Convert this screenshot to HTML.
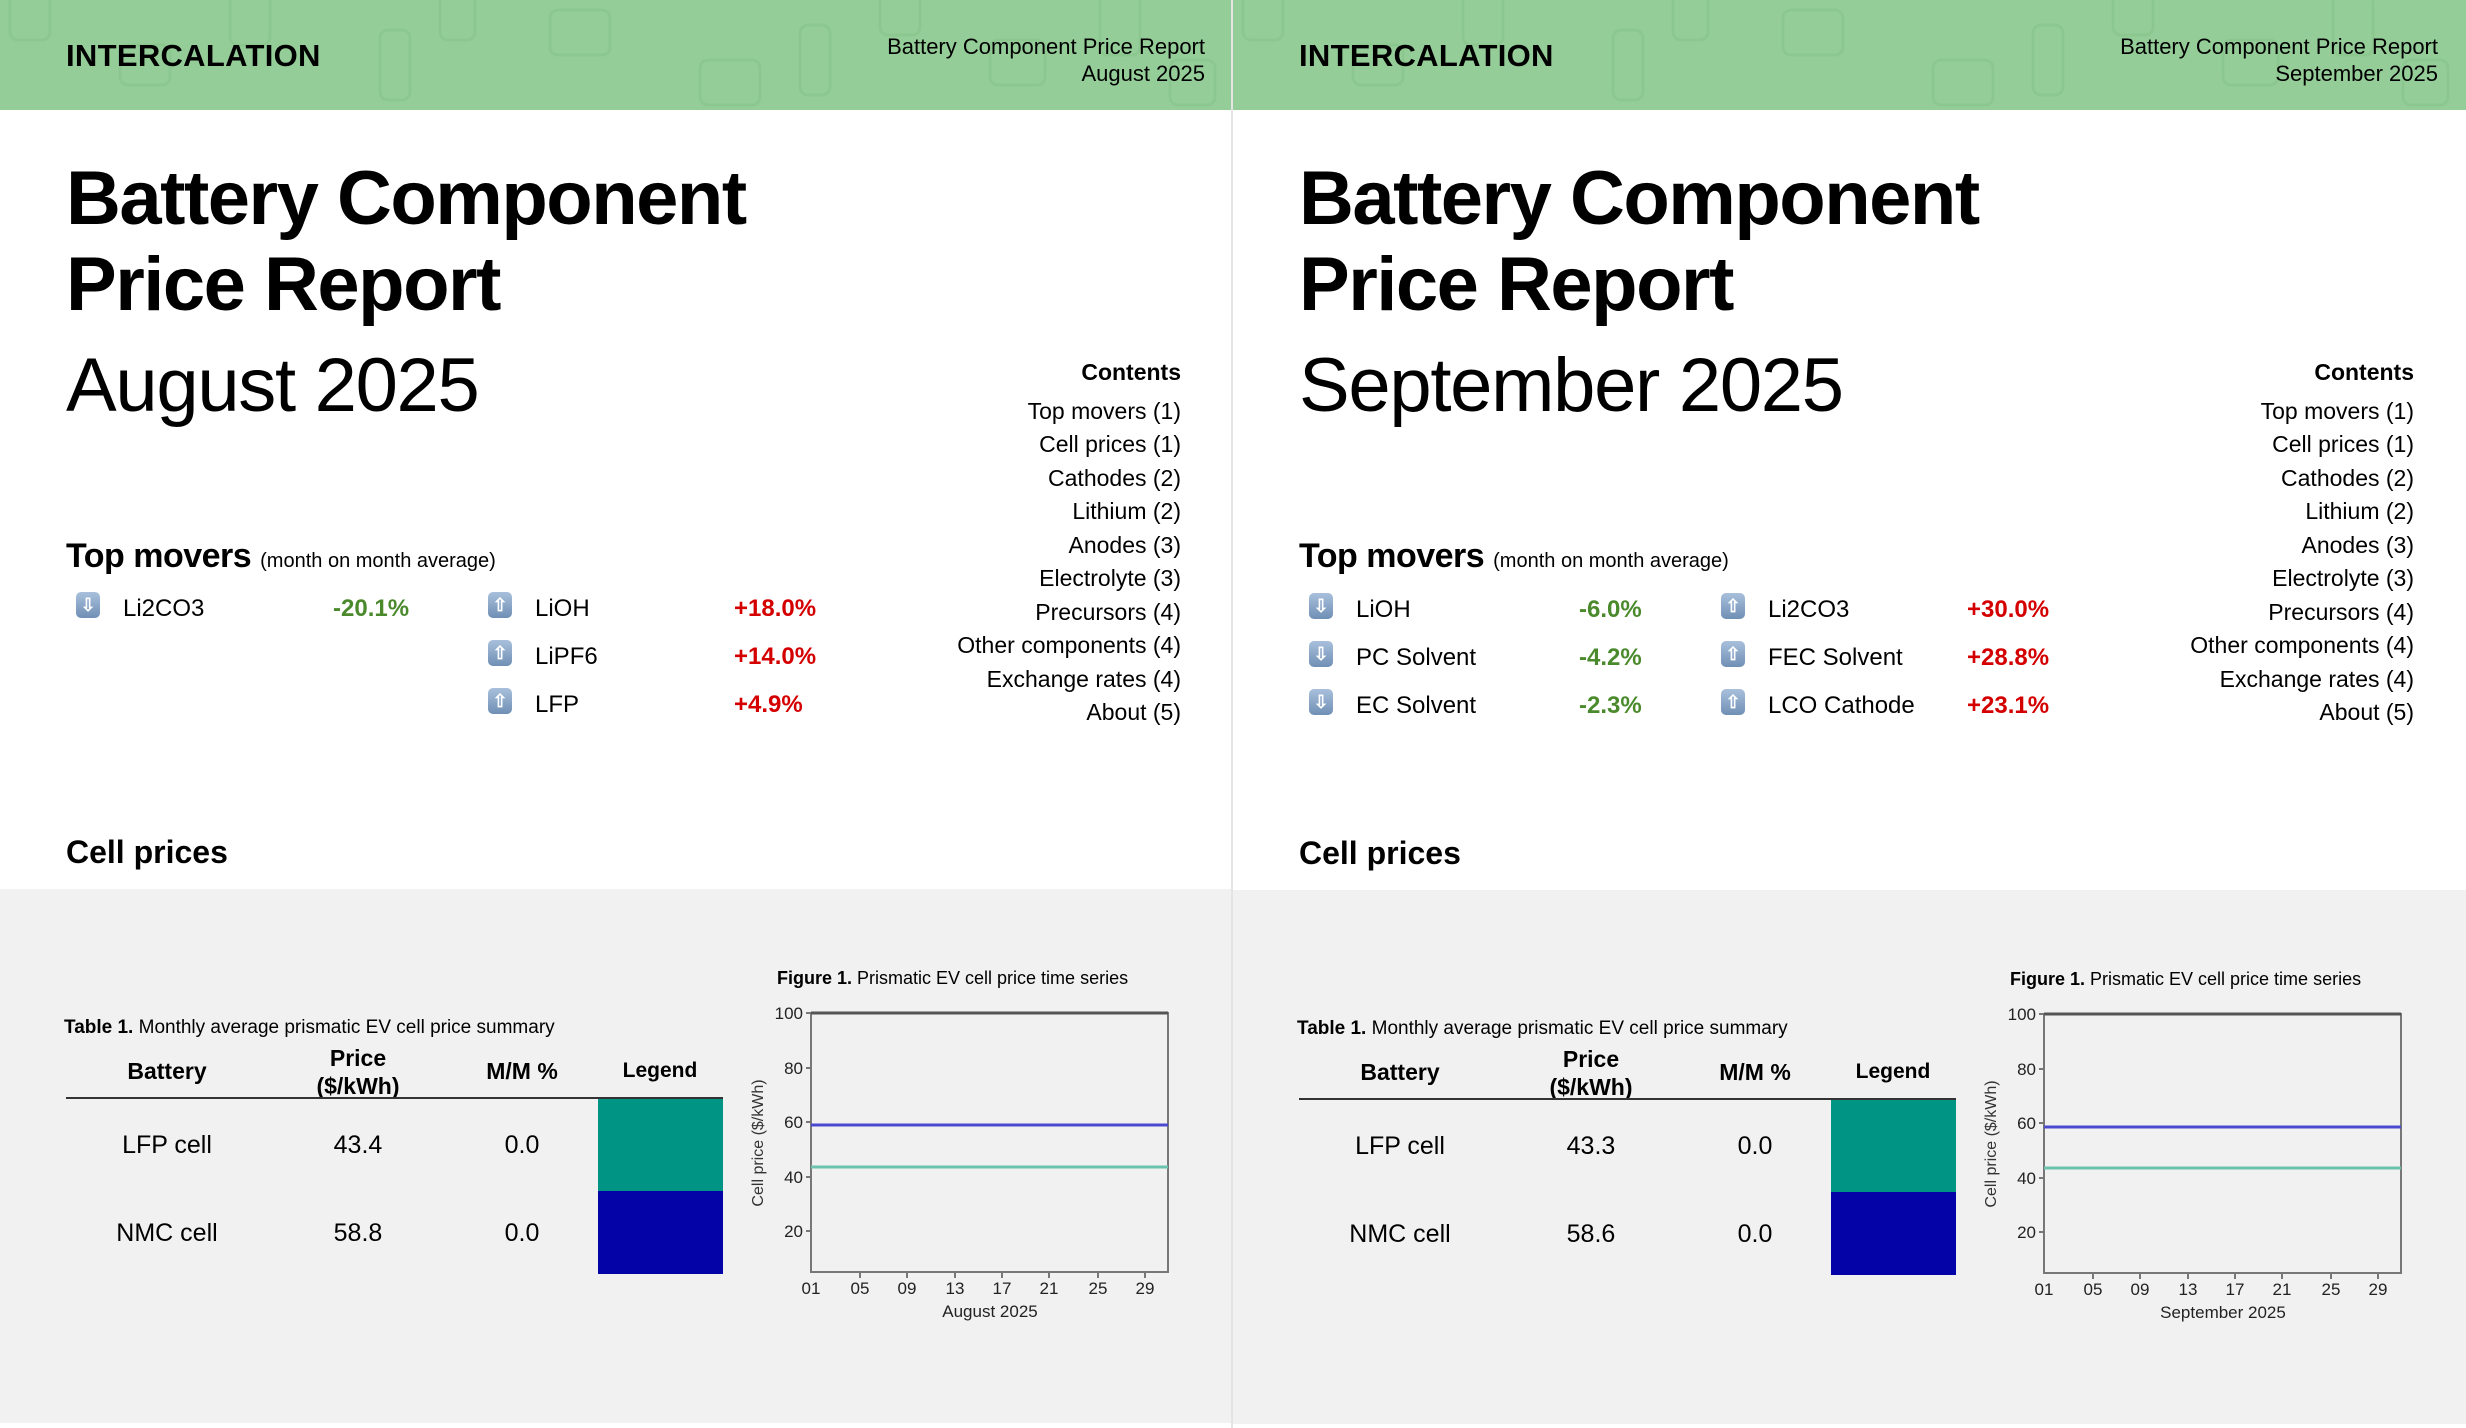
<!DOCTYPE html>
<html><head><meta charset="utf-8"><style>
*{margin:0;padding:0;box-sizing:border-box}
body{width:2466px;height:1428px;background:#fff;position:relative;overflow:hidden;font-family:"Liberation Sans",Arial,sans-serif;color:#000}
.p{position:absolute;top:0;width:1233px;height:1428px;overflow:hidden}
.hd{position:absolute;left:0;top:0;width:1233px;height:110px;background:#95cd99}
.a{position:absolute;line-height:1;white-space:nowrap}
.gray{position:absolute;left:0;top:889px;width:1233px;height:534px;background:#f1f1f1}
.logo{font-size:31px;font-weight:bold;letter-spacing:0.3px}
.hr{font-size:22px;right:28px;text-align:right}
.t{font-size:76px;font-weight:bold;letter-spacing:-1.5px}
.ct{font-size:23px;right:52px;text-align:right}
.mv{font-size:24px}
.g{color:#4b8a2c;font-weight:bold}
.r{color:#d40000;font-weight:bold}
.ic{position:absolute;width:24px;height:26px;border-radius:5px;background:linear-gradient(#a9c0dc,#6f8fb5);color:#fff;font-size:18px;font-weight:bold;text-align:center;line-height:26px}
.th{font-size:23px;font-weight:bold;text-align:center;width:200px}
.td{font-size:25px;text-align:center;width:200px}
</style></head><body>

<!-- LEFT PANEL -->
<div class="p" style="left:0">
<div class="hd"><svg width="1233" height="110" style="position:absolute;left:0;top:0" fill="none" stroke="#8cc790" stroke-width="3">
<rect x="10" y="-20" width="40" height="60" rx="8"/><rect x="120" y="45" width="50" height="40" rx="8"/><rect x="230" y="-10" width="40" height="55" rx="8"/><rect x="380" y="30" width="30" height="70" rx="8"/><rect x="440" y="-15" width="35" height="55" rx="8"/><rect x="550" y="10" width="60" height="45" rx="8"/><rect x="700" y="60" width="60" height="45" rx="8"/><rect x="800" y="25" width="30" height="70" rx="8"/><rect x="880" y="-20" width="40" height="55" rx="8"/><rect x="990" y="40" width="55" height="45" rx="8"/><rect x="1100" y="-5" width="40" height="60" rx="8"/><rect x="1170" y="60" width="45" height="45" rx="8"/>
</svg></div>
<div class="a logo" style="left:66px;top:40px">INTERCALATION</div>
<div class="a hr" style="top:36px">Battery Component Price Report</div>
<div class="a hr" style="top:63px">August 2025</div>
<div class="a t" style="left:66px;top:161px">Battery Component</div>
<div class="a t" style="left:66px;top:247px">Price Report</div>
<div class="a t" style="left:66px;top:348px;font-weight:normal;letter-spacing:-1.3px">August 2025</div>
<div class="a ct" style="top:361px;font-weight:bold">Contents</div>
<div class="a ct" style="top:400px">Top movers (1)</div>
<div class="a ct" style="top:433px">Cell prices (1)</div>
<div class="a ct" style="top:467px">Cathodes (2)</div>
<div class="a ct" style="top:500px">Lithium (2)</div>
<div class="a ct" style="top:534px">Anodes (3)</div>
<div class="a ct" style="top:567px">Electrolyte (3)</div>
<div class="a ct" style="top:601px">Precursors (4)</div>
<div class="a ct" style="top:634px">Other components (4)</div>
<div class="a ct" style="top:668px">Exchange rates (4)</div>
<div class="a ct" style="top:701px">About (5)</div>
<div class="a" style="left:66px;top:539px;font-size:34px;font-weight:bold;letter-spacing:-0.5px">Top movers <span style="font-size:20px;font-weight:normal;letter-spacing:0">(month on month average)</span></div>
<div class="ic" style="left:76px;top:592px">⇩</div>
<div class="a mv" style="left:123px;top:597px">Li2CO3</div>
<div class="a mv g" style="left:333px;top:597px">-20.1%</div>
<div class="ic" style="left:488px;top:592px">⇧</div>
<div class="a mv" style="left:535px;top:597px">LiOH</div>
<div class="a mv r" style="left:734px;top:597px">+18.0%</div>
<div class="ic" style="left:488px;top:640px">⇧</div>
<div class="a mv" style="left:535px;top:645px">LiPF6</div>
<div class="a mv r" style="left:734px;top:645px">+14.0%</div>
<div class="ic" style="left:488px;top:688px">⇧</div>
<div class="a mv" style="left:535px;top:693px">LFP</div>
<div class="a mv r" style="left:734px;top:693px">+4.9%</div>
<div class="a" style="left:66px;top:836px;font-size:32px;font-weight:bold">Cell prices</div>
<div class="gray"></div>
<div class="a" style="left:64px;top:1018px;font-size:19px"><b>Table 1.</b> Monthly average prismatic EV cell price summary</div>
<div class="a th" style="left:67px;top:1060px">Battery</div>
<div class="a th" style="left:258px;top:1044px;line-height:28px">Price<br>($/kWh)</div>
<div class="a th" style="left:422px;top:1060px">M/M %</div>
<div class="a th" style="left:560px;top:1060px;font-size:21px">Legend</div>
<div style="position:absolute;left:66px;top:1097px;width:657px;height:2px;background:#333"></div>
<div style="position:absolute;left:598px;top:1099px;width:125px;height:92px;background:#009485"></div>
<div style="position:absolute;left:598px;top:1191px;width:125px;height:83px;background:#0303a8"></div>
<div class="a td" style="left:67px;top:1133px">LFP cell</div>
<div class="a td" style="left:258px;top:1133px">43.4</div>
<div class="a td" style="left:422px;top:1133px">0.0</div>
<div class="a td" style="left:67px;top:1221px">NMC cell</div>
<div class="a td" style="left:258px;top:1221px">58.8</div>
<div class="a td" style="left:422px;top:1221px">0.0</div>
<div class="a" style="left:777px;top:969px;font-size:18px"><b>Figure 1.</b> Prismatic EV cell price time series</div>
<svg width="1233" height="1428" style="position:absolute;left:0;top:0" font-family="Liberation Sans, Arial, sans-serif">
<rect x="811" y="1013" width="357" height="259" fill="none" stroke="#777" stroke-width="2"/>
<line x1="811" y1="1013" x2="1168" y2="1013" stroke="#555" stroke-width="3"/>
<g stroke="#777" stroke-width="2"><line x1="811" y1="1068" x2="806" y2="1068"/><line x1="811" y1="1122" x2="806" y2="1122"/><line x1="811" y1="1177" x2="806" y2="1177"/><line x1="811" y1="1231" x2="806" y2="1231"/><line x1="811" y1="1013" x2="806" y2="1013"/>
<line x1="860" y1="1272" x2="860" y2="1278"/><line x1="907" y1="1272" x2="907" y2="1278"/><line x1="955" y1="1272" x2="955" y2="1278"/><line x1="1002" y1="1272" x2="1002" y2="1278"/><line x1="1049" y1="1272" x2="1049" y2="1278"/><line x1="1098" y1="1272" x2="1098" y2="1278"/><line x1="1145" y1="1272" x2="1145" y2="1278"/></g>
<line x1="811" y1="1125" x2="1168" y2="1125" stroke="#4a4ad0" stroke-width="3"/>
<line x1="811" y1="1167" x2="1168" y2="1167" stroke="#6cc3ad" stroke-width="3"/>
<g font-size="17" text-anchor="end" fill="#222"><text x="803" y="1019">100</text><text x="803" y="1074">80</text><text x="803" y="1128">60</text><text x="803" y="1183">40</text><text x="803" y="1237">20</text></g>
<g font-size="17" text-anchor="middle" fill="#222"><text x="811" y="1294">01</text><text x="860" y="1294">05</text><text x="907" y="1294">09</text><text x="955" y="1294">13</text><text x="1002" y="1294">17</text><text x="1049" y="1294">21</text><text x="1098" y="1294">25</text><text x="1145" y="1294">29</text><text x="990" y="1317">August 2025</text></g>
<text transform="translate(763,1143) rotate(-90)" font-size="16" text-anchor="middle" fill="#333">Cell price ($/kWh)</text>
</svg>
</div>

<div style="position:absolute;left:1231px;top:0;width:2px;height:1428px;background:#e4e4e4"></div>

<!-- RIGHT PANEL -->
<div class="p" style="left:1233px">
<div class="hd"><svg width="1233" height="110" style="position:absolute;left:0;top:0" fill="none" stroke="#8cc790" stroke-width="3">
<rect x="10" y="-20" width="40" height="60" rx="8"/><rect x="120" y="45" width="50" height="40" rx="8"/><rect x="230" y="-10" width="40" height="55" rx="8"/><rect x="380" y="30" width="30" height="70" rx="8"/><rect x="440" y="-15" width="35" height="55" rx="8"/><rect x="550" y="10" width="60" height="45" rx="8"/><rect x="700" y="60" width="60" height="45" rx="8"/><rect x="800" y="25" width="30" height="70" rx="8"/><rect x="880" y="-20" width="40" height="55" rx="8"/><rect x="990" y="40" width="55" height="45" rx="8"/><rect x="1100" y="-5" width="40" height="60" rx="8"/><rect x="1170" y="60" width="45" height="45" rx="8"/>
</svg></div>
<div class="a logo" style="left:66px;top:40px">INTERCALATION</div>
<div class="a hr" style="top:36px">Battery Component Price Report</div>
<div class="a hr" style="top:63px">September 2025</div>
<div class="a t" style="left:66px;top:161px">Battery Component</div>
<div class="a t" style="left:66px;top:247px">Price Report</div>
<div class="a t" style="left:66px;top:348px;font-weight:normal;letter-spacing:-1.3px">September 2025</div>
<div class="a ct" style="top:361px;font-weight:bold">Contents</div>
<div class="a ct" style="top:400px">Top movers (1)</div>
<div class="a ct" style="top:433px">Cell prices (1)</div>
<div class="a ct" style="top:467px">Cathodes (2)</div>
<div class="a ct" style="top:500px">Lithium (2)</div>
<div class="a ct" style="top:534px">Anodes (3)</div>
<div class="a ct" style="top:567px">Electrolyte (3)</div>
<div class="a ct" style="top:601px">Precursors (4)</div>
<div class="a ct" style="top:634px">Other components (4)</div>
<div class="a ct" style="top:668px">Exchange rates (4)</div>
<div class="a ct" style="top:701px">About (5)</div>
<div class="a" style="left:66px;top:539px;font-size:34px;font-weight:bold;letter-spacing:-0.5px">Top movers <span style="font-size:20px;font-weight:normal;letter-spacing:0">(month on month average)</span></div>
<div class="ic" style="left:76px;top:593px">⇩</div>
<div class="a mv" style="left:123px;top:598px">LiOH</div>
<div class="a mv g" style="left:346px;top:598px">-6.0%</div>
<div class="ic" style="left:76px;top:641px">⇩</div>
<div class="a mv" style="left:123px;top:646px">PC Solvent</div>
<div class="a mv g" style="left:346px;top:646px">-4.2%</div>
<div class="ic" style="left:76px;top:689px">⇩</div>
<div class="a mv" style="left:123px;top:694px">EC Solvent</div>
<div class="a mv g" style="left:346px;top:694px">-2.3%</div>
<div class="ic" style="left:488px;top:593px">⇧</div>
<div class="a mv" style="left:535px;top:598px">Li2CO3</div>
<div class="a mv r" style="left:734px;top:598px">+30.0%</div>
<div class="ic" style="left:488px;top:641px">⇧</div>
<div class="a mv" style="left:535px;top:646px">FEC Solvent</div>
<div class="a mv r" style="left:734px;top:646px">+28.8%</div>
<div class="ic" style="left:488px;top:689px">⇧</div>
<div class="a mv" style="left:535px;top:694px">LCO Cathode</div>
<div class="a mv r" style="left:734px;top:694px">+23.1%</div>
<div class="a" style="left:66px;top:837px;font-size:32px;font-weight:bold">Cell prices</div>
<div class="gray" style="top:890px"></div>
<div class="a" style="left:64px;top:1019px;font-size:19px"><b>Table 1.</b> Monthly average prismatic EV cell price summary</div>
<div class="a th" style="left:67px;top:1061px">Battery</div>
<div class="a th" style="left:258px;top:1045px;line-height:28px">Price<br>($/kWh)</div>
<div class="a th" style="left:422px;top:1061px">M/M %</div>
<div class="a th" style="left:560px;top:1061px;font-size:21px">Legend</div>
<div style="position:absolute;left:66px;top:1098px;width:657px;height:2px;background:#333"></div>
<div style="position:absolute;left:598px;top:1100px;width:125px;height:92px;background:#009485"></div>
<div style="position:absolute;left:598px;top:1192px;width:125px;height:83px;background:#0303a8"></div>
<div class="a td" style="left:67px;top:1134px">LFP cell</div>
<div class="a td" style="left:258px;top:1134px">43.3</div>
<div class="a td" style="left:422px;top:1134px">0.0</div>
<div class="a td" style="left:67px;top:1222px">NMC cell</div>
<div class="a td" style="left:258px;top:1222px">58.6</div>
<div class="a td" style="left:422px;top:1222px">0.0</div>
<div class="a" style="left:777px;top:970px;font-size:18px"><b>Figure 1.</b> Prismatic EV cell price time series</div>
<svg width="1233" height="1428" style="position:absolute;left:0;top:1px" font-family="Liberation Sans, Arial, sans-serif">
<rect x="811" y="1013" width="357" height="259" fill="none" stroke="#777" stroke-width="2"/>
<line x1="811" y1="1013" x2="1168" y2="1013" stroke="#555" stroke-width="3"/>
<g stroke="#777" stroke-width="2"><line x1="811" y1="1068" x2="806" y2="1068"/><line x1="811" y1="1122" x2="806" y2="1122"/><line x1="811" y1="1177" x2="806" y2="1177"/><line x1="811" y1="1231" x2="806" y2="1231"/><line x1="811" y1="1013" x2="806" y2="1013"/>
<line x1="860" y1="1272" x2="860" y2="1278"/><line x1="907" y1="1272" x2="907" y2="1278"/><line x1="955" y1="1272" x2="955" y2="1278"/><line x1="1002" y1="1272" x2="1002" y2="1278"/><line x1="1049" y1="1272" x2="1049" y2="1278"/><line x1="1098" y1="1272" x2="1098" y2="1278"/><line x1="1145" y1="1272" x2="1145" y2="1278"/></g>
<line x1="811" y1="1126" x2="1168" y2="1126" stroke="#4a4ad0" stroke-width="3"/>
<line x1="811" y1="1167" x2="1168" y2="1167" stroke="#6cc3ad" stroke-width="3"/>
<g font-size="17" text-anchor="end" fill="#222"><text x="803" y="1019">100</text><text x="803" y="1074">80</text><text x="803" y="1128">60</text><text x="803" y="1183">40</text><text x="803" y="1237">20</text></g>
<g font-size="17" text-anchor="middle" fill="#222"><text x="811" y="1294">01</text><text x="860" y="1294">05</text><text x="907" y="1294">09</text><text x="955" y="1294">13</text><text x="1002" y="1294">17</text><text x="1049" y="1294">21</text><text x="1098" y="1294">25</text><text x="1145" y="1294">29</text><text x="990" y="1317">September 2025</text></g>
<text transform="translate(763,1143) rotate(-90)" font-size="16" text-anchor="middle" fill="#333">Cell price ($/kWh)</text>
</svg>
</div>
</body></html>
